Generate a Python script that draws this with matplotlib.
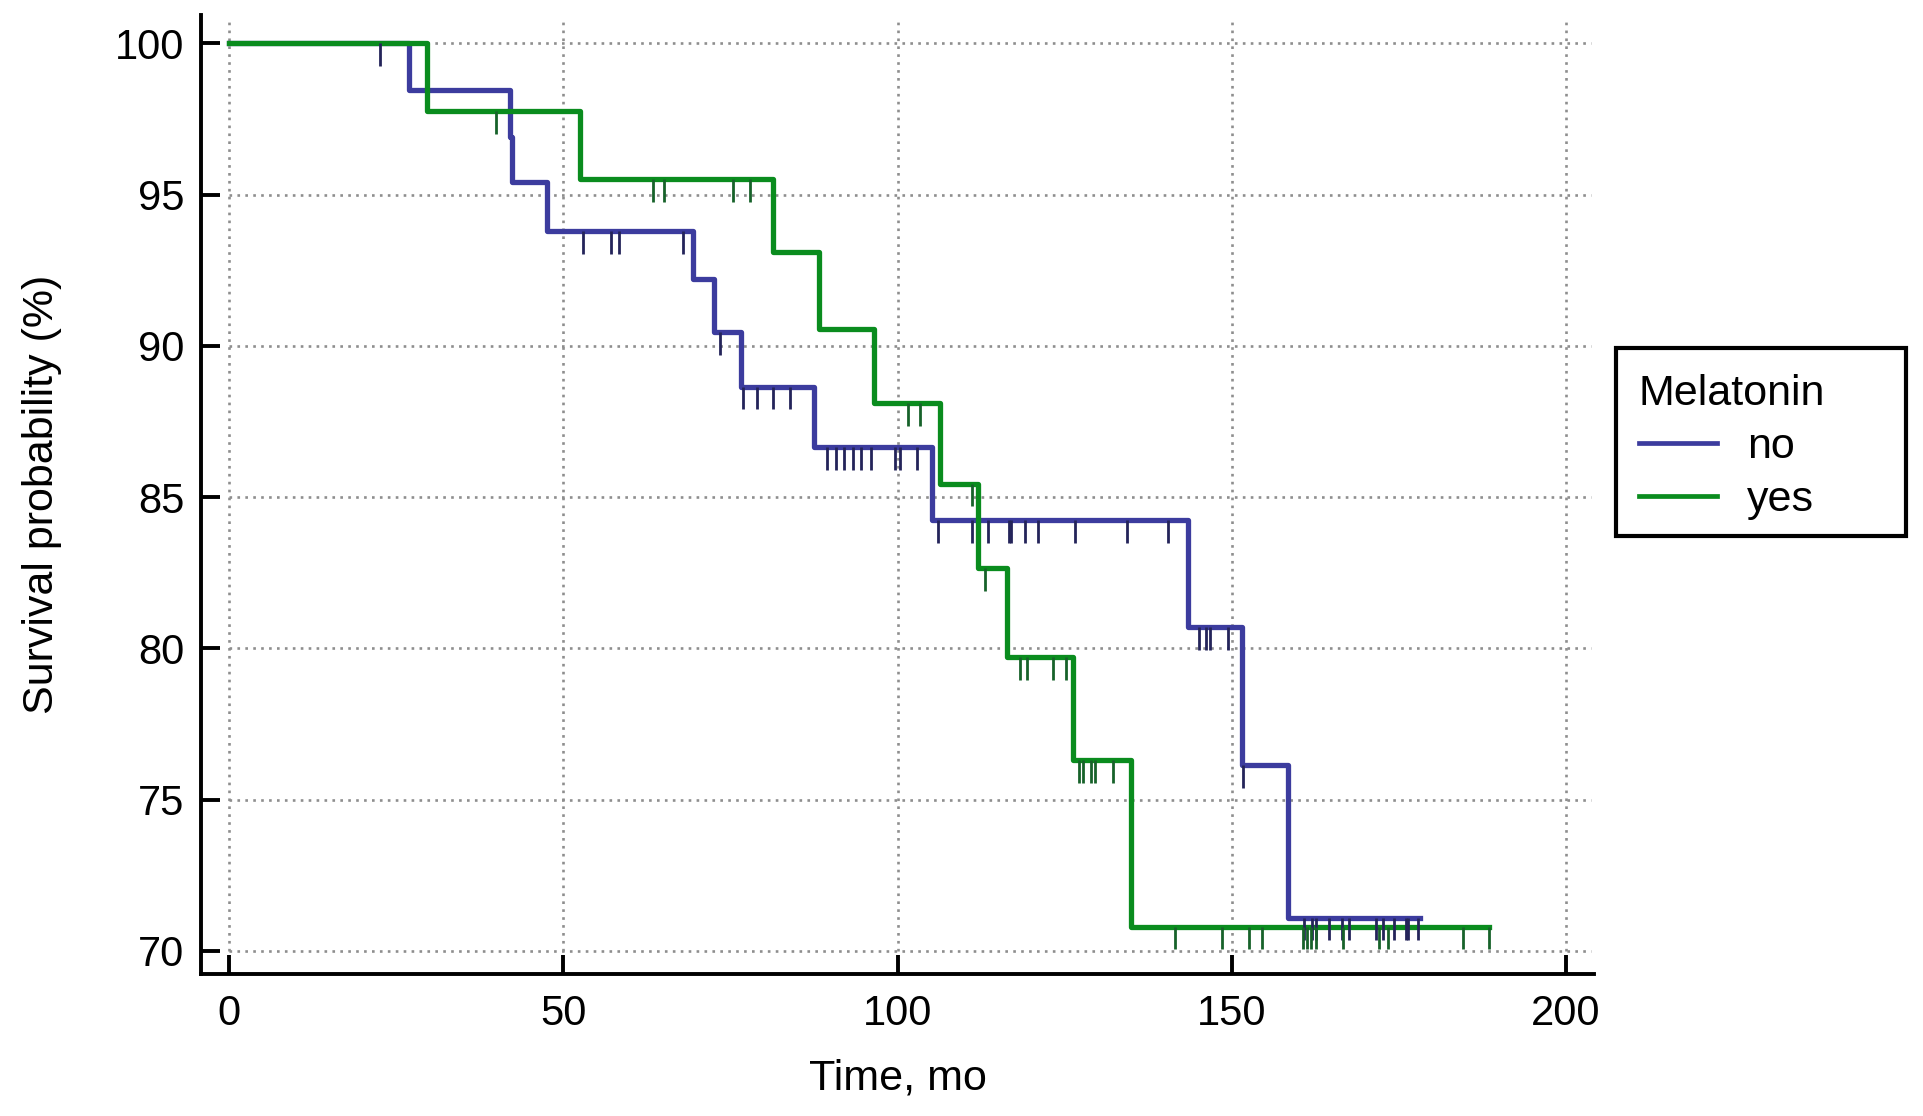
import numpy as np
import matplotlib
matplotlib.use("Agg")
import matplotlib.pyplot as plt
from matplotlib.patches import Rectangle

# ---------------- data ----------------
# "no" group (Kaplan-Meier step curve): event times and survival after each step
no_times = [0, 26.9, 42.0, 42.4, 47.5, 69.4, 72.5, 76.6, 87.5, 105.1, 143.4, 151.5, 158.4, 178.1]
no_surv = [100, 98.44, 96.9, 95.4, 93.8, 92.2, 90.45, 88.65, 86.65, 84.25, 80.7, 76.15, 71.1, 71.1]
no_censor = [22.6, 52.9, 57.2, 58.4, 67.9, 73.4, 76.9, 78.9, 81.4, 83.9,
             89.4, 90.8, 92.0, 93.3, 94.5, 96.0, 99.6, 100.3, 102.9,
             106.0, 111.1, 113.5, 116.6, 116.9, 119.0, 121.0, 126.6, 134.3, 140.4,
             145.1, 146.1, 146.8, 149.5, 151.6,
             160.8, 162.0, 162.6, 164.5, 166.5, 167.5, 171.5, 172.6, 174.3, 176.0, 176.4, 177.9]

# "yes" group
yes_times = [0, 29.6, 52.5, 81.3, 88.3, 96.5, 106.4, 112.1, 116.4, 126.2, 134.9, 188.5]
yes_surv = [100, 97.75, 95.5, 93.1, 90.55, 88.1, 85.45, 82.65, 79.7, 76.3, 70.8, 70.8]
yes_censor = [40.0, 63.4, 65.1, 75.4, 78.0, 101.5, 103.4, 111.2, 113.1,
              118.3, 119.4, 123.3, 125.2, 127.2, 127.8, 128.9, 129.5, 132.3,
              141.5, 148.5, 152.6, 154.5, 160.6, 161.2, 161.8, 162.6, 166.6,
              172.0, 173.4, 184.6, 188.4]

group_labels = ["no", "yes"]
legend_title = "Melatonin"
x_ticks = [0, 50, 100, 150, 200]
y_ticks = [70, 75, 80, 85, 90, 95, 100]
x_label = "Time, mo"
y_label = "Survival probability (%)"

# ---------------- style ----------------
plt.rcParams['font.family'] = ['Liberation Sans', 'DejaVu Sans']
BLUE = '#3c3c9e'
GREEN = '#0a8c1e'
BLUE_T = '#24245a'
GREEN_T = '#17622a'

W, H = 1923, 1116
fig = plt.figure(figsize=(W / 100, H / 100), dpi=100)
ax = fig.add_axes([0.1045, 0.127, 0.7245, 0.8597])
ax.set_xlim(-4.2, 204.2)
ax.set_ylim(69.23, 100.94)

# grid (dotted) restricted to data range like the original
grid_kw = dict(color='#8e8e8e', lw=1.9, linestyle=(0, (1, 2.0)), zorder=0)
ax.hlines(y_ticks, 0, 203.7, **grid_kw)
ax.vlines(x_ticks, 70, 100.8, **grid_kw)

# curves
ax.step(no_times, no_surv, where='post', color=BLUE, lw=3.8, label=group_labels[0], zorder=3)
ax.step(yes_times, yes_surv, where='post', color=GREEN, lw=3.8, label=group_labels[1], zorder=4)

# censor ticks hanging down from the curve level
def level_at(times, surv, t):
    idx = np.searchsorted(np.asarray(times), t, side='right') - 1
    return np.asarray(surv)[idx]

tick_len = 0.75
nl = level_at(no_times, no_surv, np.asarray(no_censor))
ax.vlines(no_censor, nl - tick_len, nl, color=BLUE_T, lw=2.0, zorder=5)
yl = level_at(yes_times, yes_surv, np.asarray(yes_censor))
ax.vlines(yes_censor, yl - tick_len, yl, color=GREEN_T, lw=2.0, zorder=5)

# axes cosmetics
for s in ['top', 'right']:
    ax.spines[s].set_visible(False)
for s in ['left', 'bottom']:
    ax.spines[s].set_linewidth(2.8)
    ax.spines[s].set_color('black')
ax.set_xticks(x_ticks)
ax.set_yticks(y_ticks)
ax.tick_params(direction='in', length=14, width=2.8, labelsize=30, color='black')
ax.tick_params(axis='x', pad=14)
ax.tick_params(axis='y', pad=12)
ax.set_xlabel(x_label, fontsize=31, labelpad=18)
ax.set_ylabel(y_label, fontsize=31, labelpad=38)

leg = ax.legend(title=legend_title, loc='upper left', bbox_to_anchor=(1639 / W, 1 - 374 / H),
                bbox_transform=fig.transFigure, fontsize=31, title_fontsize=31,
                frameon=False, handlelength=1.8, handletextpad=0.7, labelspacing=0.3,
                borderpad=0, borderaxespad=0, alignment='left')
for h in leg.legend_handles:
    h.set_linewidth(3.4)

# legend frame as in the original (wider than its content)
fig.add_artist(Rectangle((1616 / W, 1 - 536 / H), (1906 - 1616) / W, (536 - 348) / H,
                         transform=fig.transFigure, fill=False, edgecolor='black', lw=3))

fig.savefig('out.png', dpi=100)
